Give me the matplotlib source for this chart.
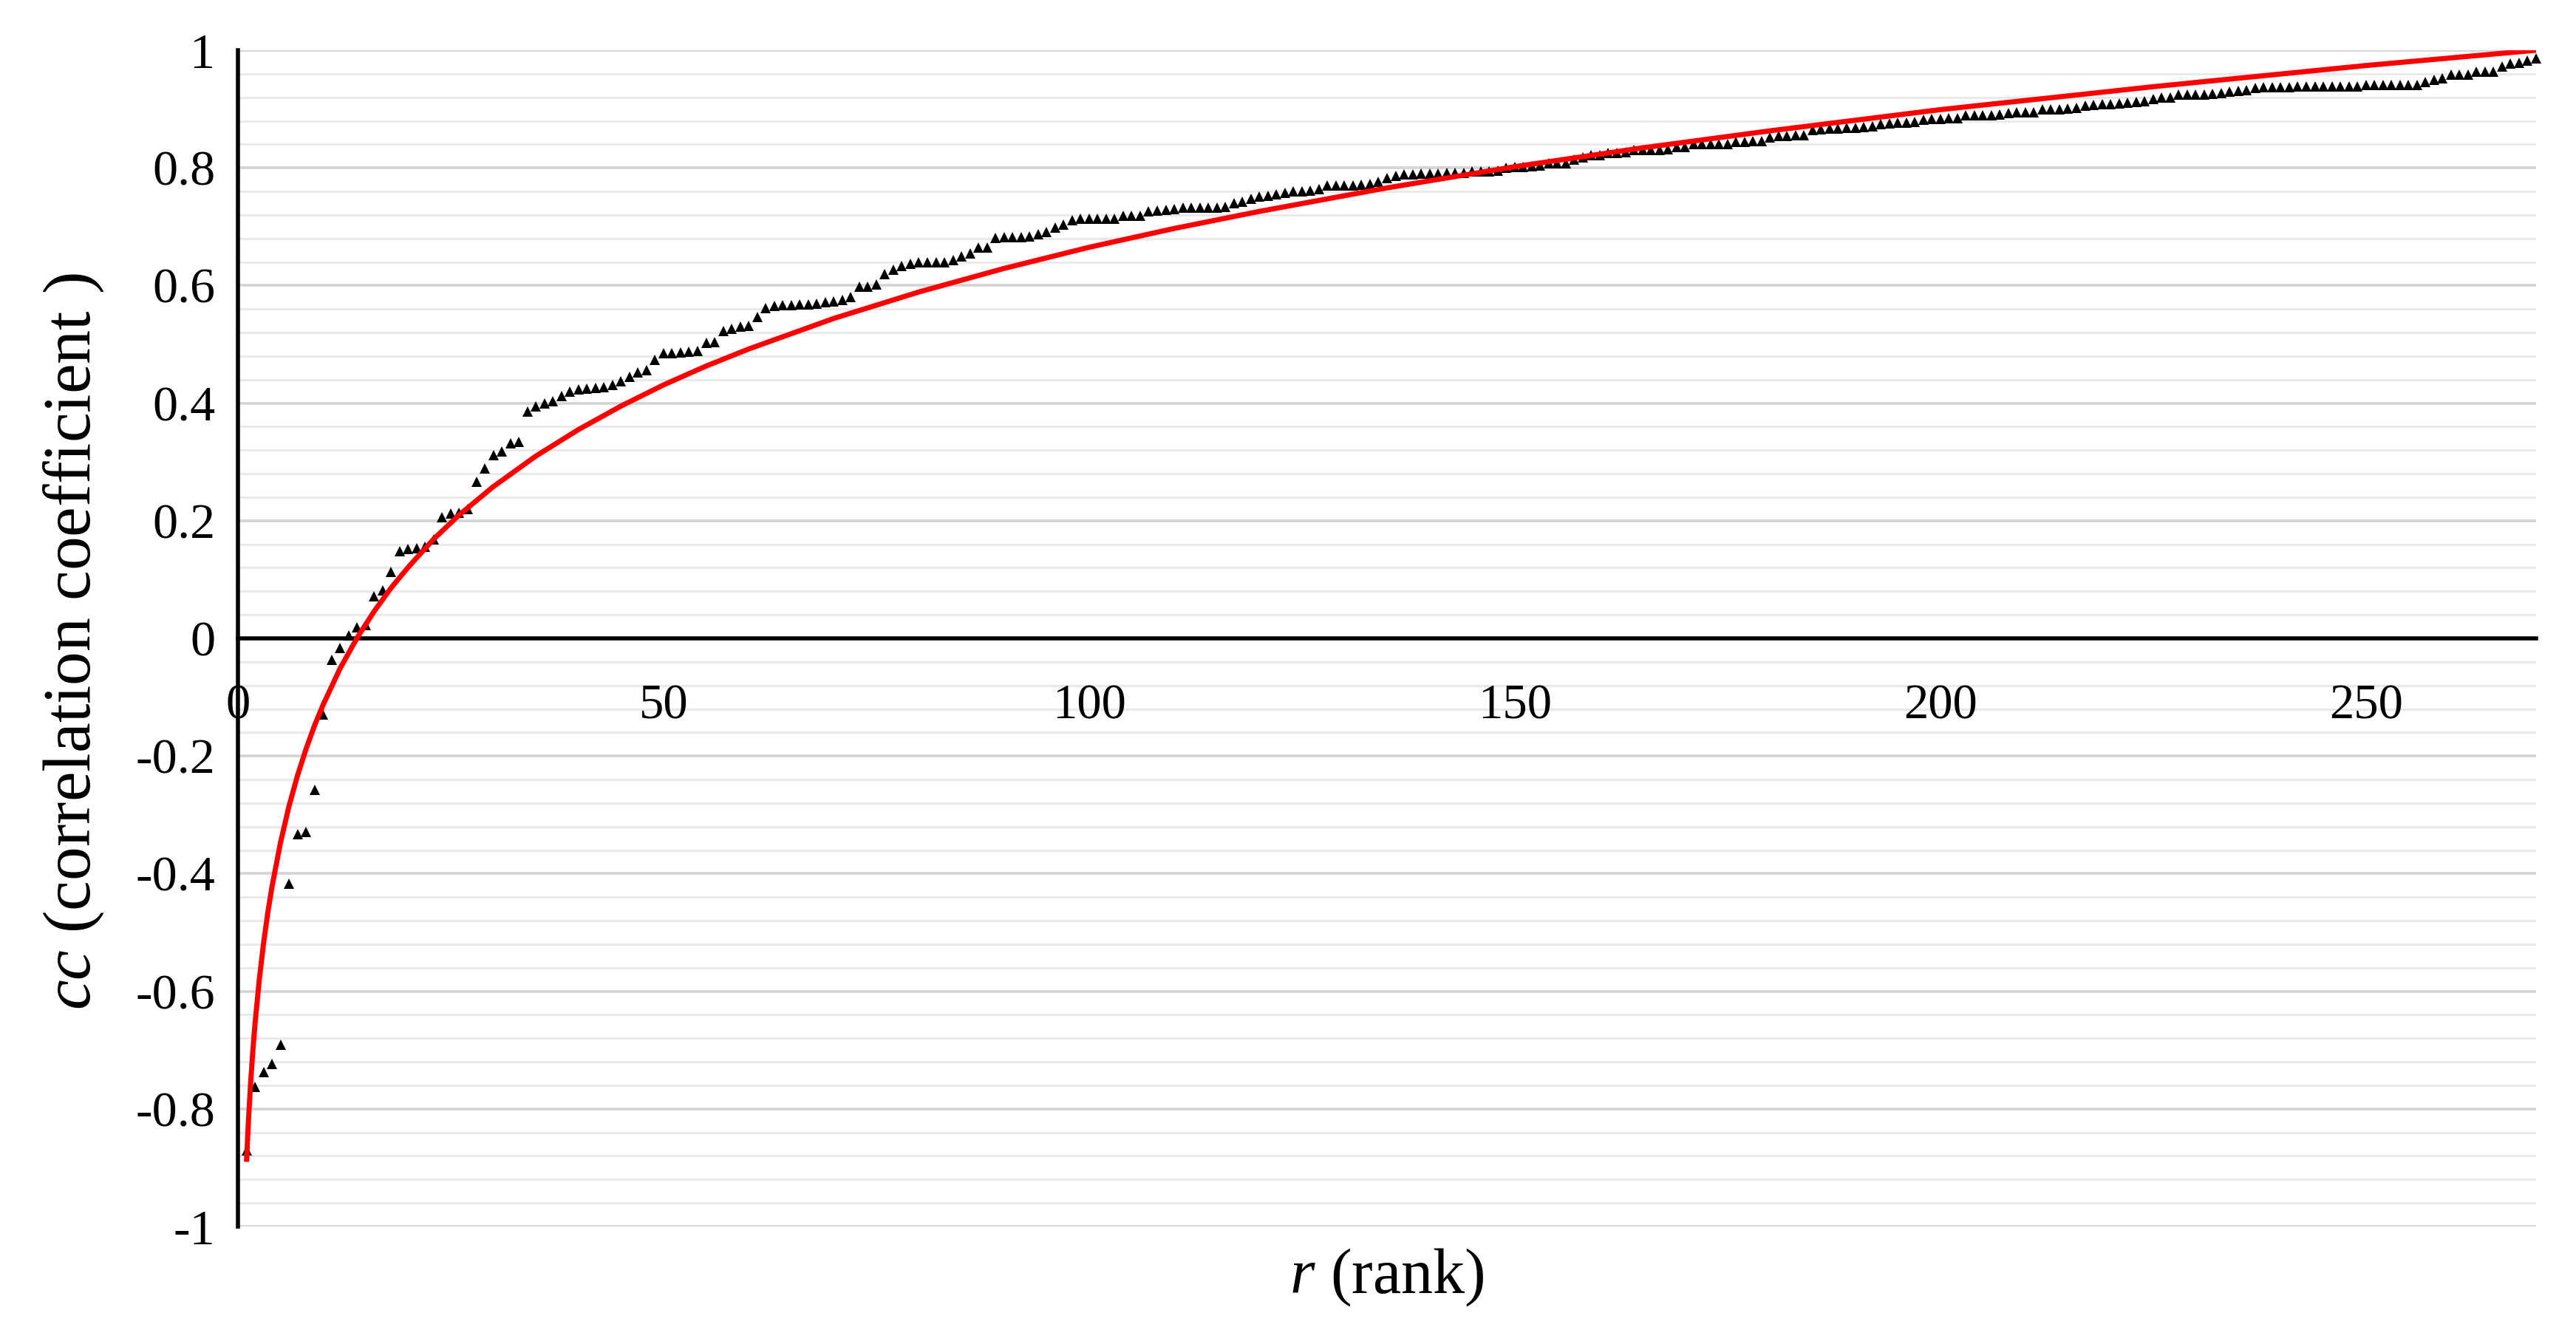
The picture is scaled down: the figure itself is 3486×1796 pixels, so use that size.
import matplotlib
matplotlib.use("Agg")
import matplotlib.pyplot as plt
from matplotlib.ticker import MultipleLocator, FixedLocator, FuncFormatter

plt.rcParams['font.family'] = ['Liberation Serif', 'DejaVu Serif']
plt.rcParams['mathtext.fontset'] = 'custom'
plt.rcParams['mathtext.rm'] = 'Liberation Serif'
plt.rcParams['mathtext.it'] = 'Liberation Serif:italic'

# ---- data: ranked correlation coefficients (black triangles) ----
rank = list(range(1, 271))
cc = [
    -0.870, -0.762, -0.737, -0.723, -0.691, -0.417, -0.333, -0.329, -0.258, -0.130,   # 1-10
    -0.036, -0.016, 0.005, 0.019, 0.022, 0.071, 0.082, 0.113, 0.148, 0.152,           # 11-20
    0.153, 0.156, 0.168, 0.206, 0.212, 0.213, 0.220, 0.266, 0.289, 0.311,             # 21-30
    0.318, 0.332, 0.334, 0.386, 0.394, 0.399, 0.403, 0.412, 0.419, 0.423,             # 31-40
    0.425, 0.426, 0.427, 0.431, 0.437, 0.445, 0.452, 0.456, 0.474, 0.485,             # 41-50
    0.485, 0.486, 0.487, 0.489, 0.503, 0.504, 0.522, 0.526, 0.530, 0.532,             # 51-60
    0.546, 0.561, 0.565, 0.567, 0.567, 0.568, 0.568, 0.569, 0.571, 0.573,             # 61-70
    0.575, 0.581, 0.598, 0.598, 0.602, 0.619, 0.627, 0.633, 0.637, 0.639,             # 71-80
    0.639, 0.639, 0.640, 0.643, 0.649, 0.655, 0.664, 0.664, 0.681, 0.682,             # 81-90
    0.682, 0.682, 0.683, 0.687, 0.691, 0.698, 0.704, 0.711, 0.713, 0.713,             # 91-100
    0.713, 0.713, 0.714, 0.719, 0.719, 0.719, 0.726, 0.728, 0.729, 0.730,             # 101-110
    0.733, 0.733, 0.733, 0.733, 0.733, 0.734, 0.740, 0.743, 0.747, 0.751,             # 111-120
    0.753, 0.755, 0.757, 0.760, 0.760, 0.761, 0.764, 0.770, 0.770, 0.770,             # 121-130
    0.770, 0.771, 0.772, 0.777, 0.783, 0.787, 0.789, 0.789, 0.790, 0.790,             # 131-140
    0.790, 0.791, 0.791, 0.792, 0.794, 0.794, 0.794, 0.795, 0.800, 0.801,             # 141-150
    0.802, 0.803, 0.804, 0.808, 0.808, 0.808, 0.814, 0.818, 0.821, 0.822,             # 151-160
    0.826, 0.826, 0.827, 0.830, 0.831, 0.831, 0.831, 0.832, 0.835, 0.836,             # 161-170
    0.840, 0.840, 0.840, 0.841, 0.841, 0.844, 0.844, 0.845, 0.846, 0.852,             # 171-180
    0.854, 0.854, 0.855, 0.856, 0.864, 0.866, 0.867, 0.867, 0.868, 0.868,             # 181-190
    0.869, 0.870, 0.875, 0.876, 0.877, 0.877, 0.878, 0.882, 0.883, 0.883,             # 191-200
    0.884, 0.885, 0.889, 0.890, 0.890, 0.890, 0.891, 0.893, 0.894, 0.894,             # 201-210
    0.895, 0.899, 0.900, 0.900, 0.901, 0.902, 0.906, 0.907, 0.908, 0.908,             # 211-220
    0.909, 0.911, 0.912, 0.913, 0.917, 0.919, 0.920, 0.924, 0.925, 0.925,             # 221-230
    0.925, 0.926, 0.927, 0.930, 0.931, 0.932, 0.936, 0.937, 0.937, 0.937,             # 231-240
    0.937, 0.938, 0.938, 0.938, 0.938, 0.938, 0.939, 0.939, 0.939, 0.941,             # 241-250
    0.941, 0.941, 0.941, 0.941, 0.941, 0.941, 0.946, 0.950, 0.952, 0.958,             # 251-260
    0.958, 0.958, 0.964, 0.964, 0.964, 0.972, 0.977, 0.979, 0.983, 0.986,             # 261-270
]

# ---- red trend curve ----
trend_r = [1, 1.25, 1.5, 1.75, 2, 2.5, 3, 3.5, 4, 5, 6, 7, 8, 9, 10, 12, 14, 16, 18,
           20, 23, 26, 30, 35, 40, 45, 50, 55, 60, 70, 80, 90, 100, 110, 120, 135,
           150, 165, 180, 200, 225, 250, 270]
trend_cc = [-0.890, -0.815, -0.753, -0.701, -0.656, -0.581, -0.519, -0.467, -0.422,
            -0.347, -0.285, -0.233, -0.188, -0.148, -0.113, -0.051, 0.001, 0.046,
            0.086, 0.121, 0.169, 0.210, 0.258, 0.310, 0.355, 0.395, 0.431, 0.463,
            0.492, 0.544, 0.589, 0.629, 0.665, 0.697, 0.726, 0.766, 0.802, 0.834,
            0.863, 0.899, 0.938, 0.974, 1.000]

x_ticks = [0, 50, 100, 150, 200, 250]
y_ticks = [-1, -0.8, -0.6, -0.4, -0.2, 0, 0.2, 0.4, 0.6, 0.8, 1]

W, H, DPI = 3487, 1796, 100
fig = plt.figure(figsize=(W / DPI, H / DPI), dpi=DPI, facecolor='white')
L, R, T, B = 322, 3432, 68, 1660
ax = fig.add_axes([L / W, 1 - B / H, (R - L) / W, (B - T) / H])

ax.set_xlim(0, 270)
ax.set_ylim(-1, 1)

ax.yaxis.set_major_locator(FixedLocator(y_ticks))
ax.yaxis.set_minor_locator(MultipleLocator(0.04))
ax.xaxis.set_major_locator(FixedLocator(x_ticks))

def yfmt(v, pos):
    v = round(v, 2)
    if abs(v) < 1e-9:
        return '0'
    return f'{v:g}'
ax.yaxis.set_major_formatter(FuncFormatter(yfmt))

ax.grid(True, which='major', axis='y', color='#d4d4d4', linewidth=2.7)
ax.grid(True, which='minor', axis='y', color='#e9e9e9', linewidth=2.3)
ax.grid(False, axis='x')
ax.set_axisbelow(True)
ax.xaxis.set_zorder(2.5)

for s in ['top', 'right']:
    ax.spines[s].set_visible(False)
ax.spines['left'].set_position(('data', 0))
ax.spines['bottom'].set_position(('data', 0))
ax.spines['left'].set_linewidth(4)
ax.spines['bottom'].set_linewidth(4)
ax.spines['left'].set_zorder(1.5)
ax.spines['bottom'].set_zorder(1.5)

ax.tick_params(axis='both', which='both', length=0)
ax.tick_params(axis='y', labelsize=49, pad=22)
ax.tick_params(axis='x', labelsize=48, pad=44)

ax.plot(rank, cc, linestyle='none', marker='^', markersize=9.5, color='black',
        markeredgewidth=0, zorder=3, clip_on=False)
ax.plot(trend_r, trend_cc, color='#ff0000', linewidth=5, zorder=4,
        solid_capstyle='butt', solid_joinstyle='round')

fig.text((L + R) / 2 / W, 1 - 1729 / H, r'$\it{r}$ (rank)', fontsize=62,
         ha='center', va='center')
fig.text(100 / W, 1 - 868 / H, r'$\it{cc}$ (correlation coefficient )', fontsize=66,
         rotation=90, ha='center', va='center')

fig.savefig('out.png', dpi=DPI, facecolor='white')
